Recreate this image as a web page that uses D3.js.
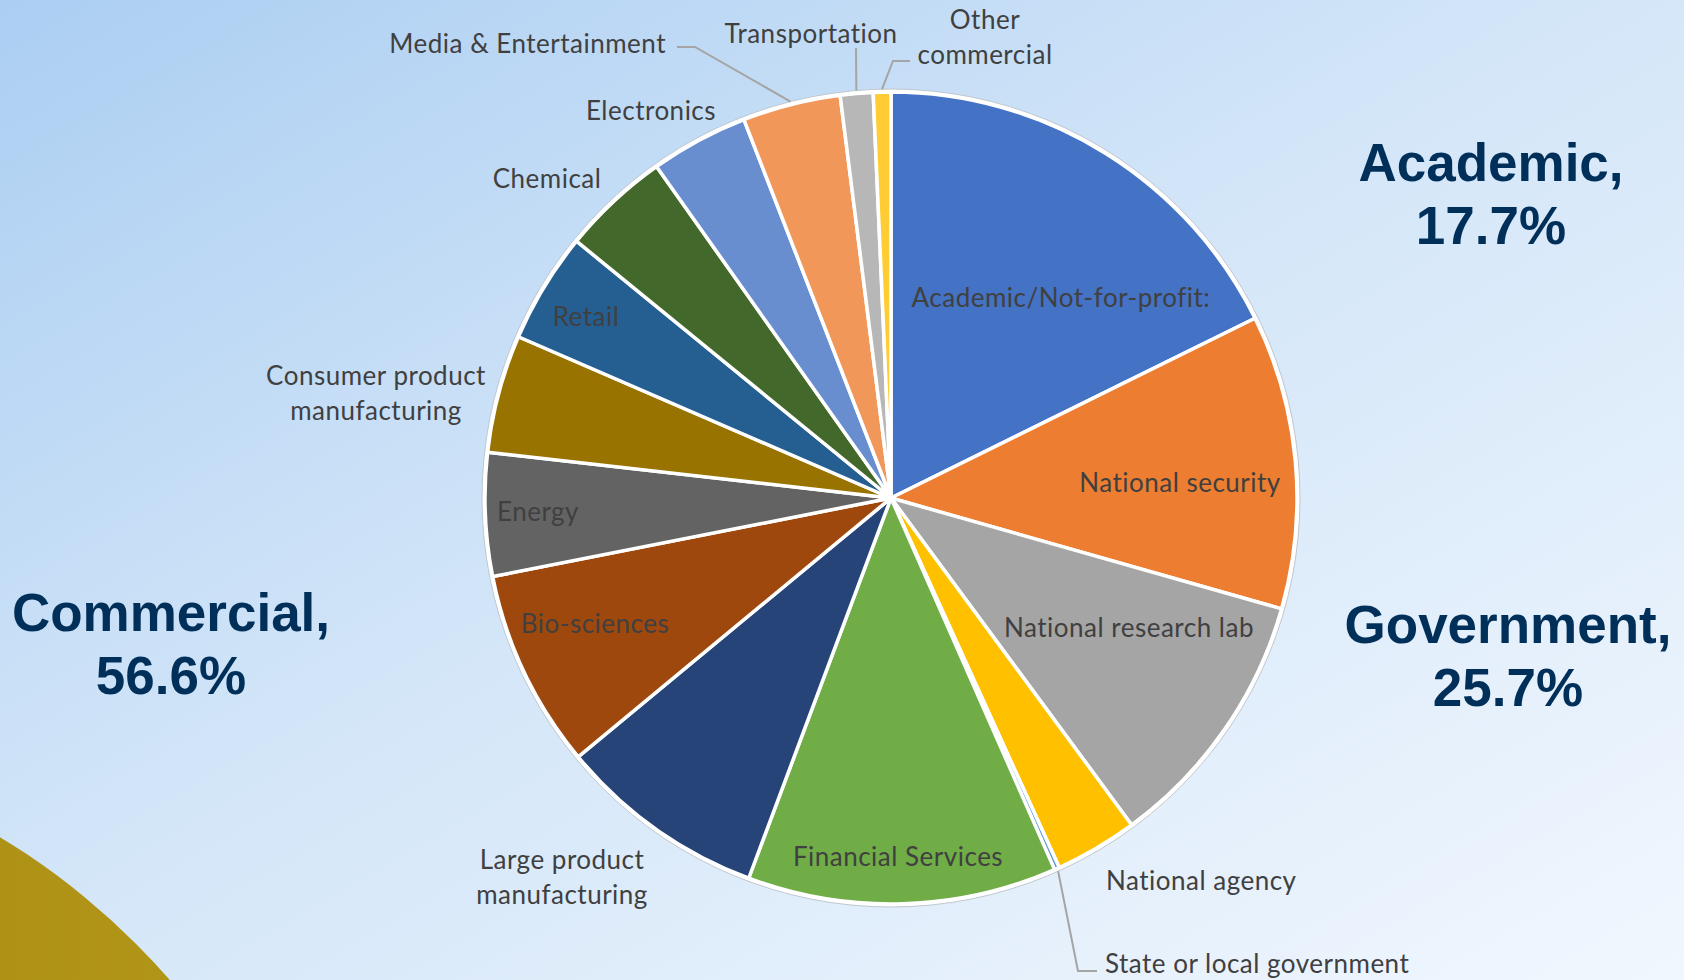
<!DOCTYPE html>
<html>
<head>
<meta charset="utf-8">
<script src="https://cdn.jsdelivr.net/npm/d3@7"></script>
<style>
  html, body { margin: 0; padding: 0; overflow: hidden; }
  svg { display: block; }
</style>
</head>
<body>
<svg id="chart" width="1684" height="980"></svg>
<script>
// ---- data ----
const categories = [
  "Academic/Not-for-profit:", "National security", "National research  lab",
  "National agency", "State or local government", "Financial Services",
  "Large product manufacturing", "Bio-sciences", "Energy",
  "Consumer product manufacturing", "Retail", "Chemical", "Electronics",
  "Media & Entertainment", "Transportation", "Other commercial"
];
const values = [17.7, 11.7, 10.5, 3.3, 0.2, 12.3, 8.3, 7.9, 4.9, 4.7, 4.4, 4.3, 3.9, 3.9, 1.3, 0.7];
const sliceColors = [
  "#4472C4", "#ED7D31", "#A5A5A5", "#FFC000", "#5B9BD5", "#70AD47",
  "#264478", "#9E480E", "#636363", "#997300", "#255E91", "#43682B",
  "#698ED0", "#F1975A", "#B7B7B7", "#FFCD33"
];
const groupNames = ["Academic,", "Government,", "Commercial,"];
const groupShares = ["17.7%", "25.7%", "56.6%"];

// ---- layout (positions relative to pie center) ----
const W = 1684, H = 980;
const cx = 891, cy = 498, R = 406;
const labelLayout = [
  { lines: ["Academic/Not-for-profit:"], anchor: "middle", dx: 170, dy: -201 },
  { lines: ["National security"], anchor: "middle", dx: 289, dy: -16 },
  { lines: ["National research  lab"], anchor: "middle", dx: 238, dy: 129 },
  { lines: ["National agency"], anchor: "start", dx: 215, dy: 382 },
  { lines: ["State or local government"], anchor: "start", dx: 214, dy: 465, leader: [[187, 473], [206, 473]] },
  { lines: ["Financial Services"], anchor: "middle", dx: 7, dy: 358 },
  { lines: ["Large product", "manufacturing"], anchor: "middle", dx: -329, dy: 361 },
  { lines: ["Bio-sciences"], anchor: "middle", dx: -296, dy: 125 },
  { lines: ["Energy"], anchor: "middle", dx: -353, dy: 13 },
  { lines: ["Consumer product", "manufacturing"], anchor: "middle", dx: -515, dy: -123 },
  { lines: ["Retail"], anchor: "middle", dx: -305, dy: -182 },
  { lines: ["Chemical"], anchor: "middle", dx: -344, dy: -320 },
  { lines: ["Electronics"], anchor: "middle", dx: -240, dy: -388 },
  { lines: ["Media & Entertainment"], anchor: "end", dx: -225, dy: -455, leader: [[-196, -451], [-214, -451]] },
  { lines: ["Transportation"], anchor: "middle", dx: -80, dy: -465, leader: [[-35, -450]] },
  { lines: ["Other", "commercial"], anchor: "middle", dx: 94, dy: -479, leader: [[2, -437], [19, -437]] }
];
const groupLayout = [
  { x: 1491, y: 181 },
  { x: 1508, y: 643 },
  { x: 171, y: 631 }
];

const svg = d3.select("#chart");
const defs = svg.append("defs");

// background gradient
const bg = defs.append("linearGradient").attr("id", "bg")
  .attr("x1", "0").attr("y1", "0").attr("x2", "1").attr("y2", "1");
bg.append("stop").attr("offset", "0%").attr("stop-color", "#ABCEF2");
bg.append("stop").attr("offset", "45%").attr("stop-color", "#D2E5F8");
bg.append("stop").attr("offset", "100%").attr("stop-color", "#F1F7FE");
svg.append("rect").attr("width", W).attr("height", H).attr("fill", "url(#bg)");

// gold decoration
const gold = defs.append("linearGradient").attr("id", "gold")
  .attr("x1", "0").attr("y1", "0").attr("x2", "1").attr("y2", "0");
gold.append("stop").attr("offset", "0%").attr("stop-color", "#9C7F10");
gold.append("stop").attr("offset", "100%").attr("stop-color", "#B49818");
svg.append("circle").attr("cx", -373).attr("cy", 1453).attr("r", 720).attr("fill", "url(#gold)");

// pie
const g = svg.append("g").attr("transform", `translate(${cx},${cy})`);
const pie = d3.pie().sort(null).value(d => d);
const arcs = pie(values);
const arc = d3.arc().innerRadius(0).outerRadius(R);

g.append("circle").attr("r", R + 3).attr("fill", "#ffffff")
  .attr("stroke", "#BFC7D0").attr("stroke-width", 1);

g.selectAll("path.slice").data(arcs).join("path")
  .attr("class", "slice")
  .attr("d", arc)
  .attr("fill", (d, i) => sliceColors[i])
  .attr("stroke", "#ffffff")
  .attr("stroke-width", 3.5)
  .attr("stroke-linejoin", "round");

// leader lines
arcs.forEach((d, i) => {
  const L = labelLayout[i];
  if (!L.leader) return;
  const mid = (d.startAngle + d.endAngle) / 2;
  const p0 = [Math.sin(mid) * (R + 3), -Math.cos(mid) * (R + 3)];
  g.append("path")
    .attr("d", d3.line()([p0, ...L.leader]))
    .attr("fill", "none")
    .attr("stroke", "#A5A5A5")
    .attr("stroke-width", 2);
});

// slice labels
const lineH = 35;
labelLayout.forEach((L, i) => {
  const t = g.append("text")
    .attr("x", L.dx).attr("y", L.dy)
    .attr("text-anchor", L.anchor)
    .attr("dominant-baseline", "central")
    .attr("font-family", "Lato, 'Open Sans', sans-serif")
    .attr("font-size", 26)
    .attr("letter-spacing", 0.5)
    .attr("fill", "#404040");
  L.lines.forEach((ln, k) => {
    t.append("tspan").attr("x", L.dx).attr("dy", k === 0 ? 0 : lineH).text(ln);
  });
});

// group labels
groupNames.forEach((name, i) => {
  const pos = groupLayout[i];
  const t = svg.append("text")
    .attr("x", pos.x).attr("y", pos.y)
    .attr("text-anchor", "middle")
    .attr("font-family", "'Liberation Sans', Arial, sans-serif")
    .attr("font-weight", "bold")
    .attr("font-size", 53)
    .attr("fill", "#00305A");
  t.append("tspan").attr("x", pos.x).text(name);
  t.append("tspan").attr("x", pos.x).attr("dy", 63).text(groupShares[i]);
});
</script>
</body>
</html>
